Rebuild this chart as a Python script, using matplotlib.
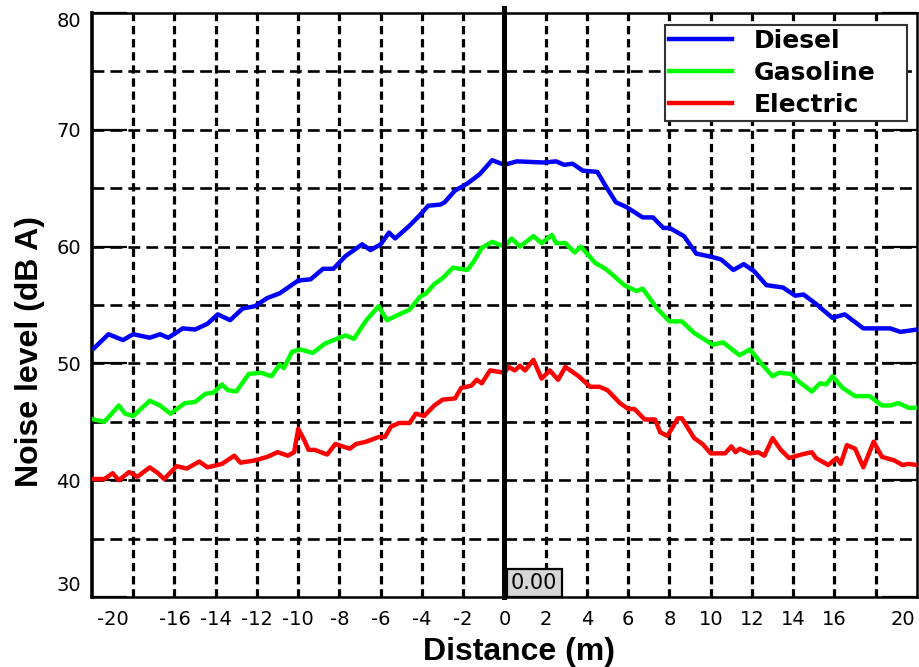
import matplotlib
matplotlib.use("Agg")
import matplotlib.pyplot as plt
import matplotlib.transforms as mtransforms
import numpy as np

# distance (m) / noise level (dB A)
diesel_x = [-19.9, -19.2, -18.5, -18.0, -17.2, -16.7, -16.3, -15.6, -15.0, -14.4,
            -13.9, -13.3, -12.7, -12.1, -11.5, -10.9, -10.0, -9.4, -8.8, -8.3,
            -7.7, -6.9, -6.5, -6.0, -5.6, -5.3, -4.6, -4.1, -3.7, -3.1,
            -2.9, -2.4, -1.8, -1.2, -0.6, 0.0, 0.6, 1.9, 2.5, 2.9,
            3.3, 3.8, 4.5, 4.9, 5.4, 5.9, 6.7, 7.2, 7.7, 8.0,
            8.7, 9.3, 10.1, 10.5, 11.1, 11.6, 12.1, 12.7, 13.5, 14.1,
            14.5, 15.1, 15.9, 16.5, 17.4, 18.1, 18.7, 19.2, 20.0]
diesel_y = [51.3, 52.5, 52.0, 52.5, 52.2, 52.5, 52.2, 53.0, 52.9, 53.4,
            54.2, 53.7, 54.7, 54.9, 55.6, 56.0, 57.1, 57.2, 58.1, 58.1,
            59.2, 60.2, 59.7, 60.2, 61.2, 60.7, 61.8, 62.7, 63.5, 63.6,
            63.8, 64.8, 65.4, 66.2, 67.4, 67.0, 67.3, 67.2, 67.3, 67.0,
            67.1, 66.5, 66.4, 65.2, 63.8, 63.4, 62.5, 62.5, 61.6, 61.6,
            60.9, 59.4, 59.1, 58.9, 58.0, 58.5, 57.9, 56.7, 56.5, 55.8,
            55.9, 55.1, 53.9, 54.2, 53.0, 53.0, 53.0, 52.7, 52.9]

gasoline_x = [-19.9, -19.4, -18.7, -18.4, -18.0, -17.2, -16.7, -16.2, -15.5, -15.0,
              -14.5, -14.1, -13.7, -13.4, -13.0, -12.4, -11.8, -11.3, -10.9, -10.7,
              -10.3, -9.9, -9.3, -8.7, -8.0, -7.7, -7.3, -6.7, -6.1, -5.7,
              -5.1, -4.6, -4.1, -3.8, -3.4, -3.0, -2.5, -1.8, -1.5, -1.1,
              -0.6, 0.0, 0.35, 0.75, 1.4, 1.8, 2.3, 2.5, 2.95, 3.4,
              3.7, 4.4, 4.9, 5.3, 5.8, 6.4, 6.7, 7.4, 8.0, 8.6,
              9.2, 10.1, 10.6, 11.4, 11.9, 12.5, 13.0, 13.3, 13.9, 14.3,
              14.9, 15.3, 15.6, 15.9, 16.4, 17.0, 17.7, 18.3, 18.7, 19.1,
              19.6, 20.0]
gasoline_y = [45.2, 45.0, 46.4, 45.7, 45.5, 46.8, 46.4, 45.7, 46.6, 46.7,
              47.4, 47.5, 48.2, 47.7, 47.6, 49.1, 49.2, 48.9, 49.9, 49.6,
              51.0, 51.2, 50.9, 51.7, 52.2, 52.4, 52.1, 53.7, 54.9, 53.7,
              54.2, 54.6, 55.7, 56.0, 56.8, 57.3, 58.2, 58.0, 58.7, 59.9,
              60.4, 60.0, 60.7, 60.0, 60.9, 60.3, 61.0, 60.3, 60.3, 59.5,
              60.0, 58.6, 58.1, 57.5, 56.7, 56.2, 56.4, 54.7, 53.6, 53.6,
              52.6, 51.6, 51.8, 50.7, 51.2, 49.9, 48.9, 49.2, 49.1, 48.4,
              47.6, 48.3, 48.2, 48.9, 47.9, 47.2, 47.2, 46.4, 46.4, 46.6,
              46.2, 46.2]

electric_x = [-19.9, -19.4, -19.0, -18.7, -18.2, -17.8, -17.2, -16.8, -16.5, -15.9,
              -15.4, -14.8, -14.4, -13.7, -13.1, -12.8, -12.1, -11.5, -11.0, -10.5,
              -10.2, -10.0, -9.7, -9.5, -9.2, -8.6, -8.2, -7.5, -7.2, -6.7,
              -6.1, -5.8, -5.5, -5.1, -4.6, -4.3, -3.9, -3.4, -3.0, -2.4,
              -2.1, -1.6, -1.35, -1.1, -0.7, 0.0, 0.2, 0.5, 0.75, 1.0,
              1.4, 1.8, 2.2, 2.6, 2.95, 3.6, 4.15, 4.6, 5.0, 5.6,
              6.0, 6.3, 6.8, 7.3, 7.55, 7.9, 8.4, 8.6, 9.2, 9.6,
              10.0, 10.7, 11.0, 11.2, 11.4, 11.9, 12.3, 12.6, 13.0, 13.4,
              13.8, 14.4, 14.9, 15.1, 15.7, 16.1, 16.3, 16.6, 17.0, 17.4,
              17.9, 18.3, 18.9, 19.3, 19.6, 20.0]
electric_y = [40.1, 40.1, 40.6, 40.0, 40.7, 40.3, 41.1, 40.6, 40.1, 41.2,
              41.0, 41.6, 41.1, 41.4, 42.1, 41.5, 41.7, 42.0, 42.4, 42.1,
              42.4, 44.4, 43.4, 42.6, 42.6, 42.2, 43.1, 42.7, 43.1, 43.3,
              43.7, 43.7, 44.6, 44.9, 44.9, 45.7, 45.5, 46.4, 46.9, 47.0,
              47.9, 48.1, 48.6, 48.3, 49.4, 49.2, 49.7, 49.4, 49.8, 49.4,
              50.3, 48.7, 49.4, 48.6, 49.7, 48.9, 48.0, 48.0, 47.7, 46.6,
              46.1, 46.1, 45.2, 45.2, 44.1, 43.8, 45.3, 45.3, 43.6, 43.1,
              42.3, 42.3, 42.9, 42.4, 42.7, 42.3, 42.4, 42.1, 43.6, 42.6,
              41.9, 42.2, 42.4, 41.9, 41.3, 41.9, 41.4, 43.0, 42.7, 41.1,
              43.3, 42.0, 41.7, 41.3, 41.4, 41.3]

xtick_vals = [-20, -16, -14, -12, -10, -8, -6, -4, -2, 0, 2, 4, 6, 8, 10, 12, 14, 16, 20]
ytick_vals = [30, 40, 50, 60, 70, 80]

fig = plt.figure(figsize=(9.19, 6.67), dpi=100)
ax = fig.add_axes([0.1001, 0.1049, 0.8977, 0.8756])
ax.set_xlim(-20, 20)
ax.set_ylim(30, 80)

# grid
for gx in np.arange(-18, 19, 2):
    if gx == 0:
        continue
    ax.axvline(gx, color='black', lw=2.3, ls=(0, (2.6, 1.5)), zorder=1)
for gy in np.arange(35, 80, 5):
    ax.axhline(gy, color='black', lw=1.9, ls=(0, (4.5, 2.3)), zorder=1)
ax.axvline(0, ymin=0, ymax=1.009, color='black', lw=3.6, zorder=4, clip_on=False)

ax.plot(diesel_x, diesel_y, color='#0000ff', lw=3.2, label='Diesel', zorder=3)
ax.plot(gasoline_x, gasoline_y, color='#00ff00', lw=3.2, label='Gasoline', zorder=3)
ax.plot(electric_x, electric_y, color='#ff0000', lw=3.2, label='Electric', zorder=3)

ax.text(0.32, 30.34, '0.00', ha='left', va='bottom', fontsize=15, zorder=5,
        bbox=dict(boxstyle='square,pad=0.2', fc='#d6d6d6', ec='black', lw=1.6))

# ticks
ax.set_xticks(xtick_vals)
ax.set_xticklabels([str(v) for v in xtick_vals])
ax.set_xticks([-10, 0, 10], minor=True)
ax.tick_params(axis='x', which='major', length=0, pad=9, labelsize=14)
ax.tick_params(axis='x', which='minor', direction='in', length=13, width=1.6,
               top=True, bottom=True)
ax.set_yticks(ytick_vals)
ax.tick_params(axis='y', which='major', direction='in', length=25, width=1.6,
               left=True, right=True, pad=8, labelsize=14)

for lab in ax.get_xticklabels():
    if lab.get_text() == '-20':
        lab.set_transform(lab.get_transform() + mtransforms.ScaledTranslation(0.21, 0, fig.dpi_scale_trans))
    elif lab.get_text() == '20':
        lab.set_transform(lab.get_transform() + mtransforms.ScaledTranslation(-0.14, 0, fig.dpi_scale_trans))
for lab in ax.get_yticklabels():
    if lab.get_text() == '80':
        lab.set_transform(lab.get_transform() + mtransforms.ScaledTranslation(0, -0.06, fig.dpi_scale_trans))
    elif lab.get_text() == '30':
        lab.set_transform(lab.get_transform() + mtransforms.ScaledTranslation(0, 0.14, fig.dpi_scale_trans))

for side in ['top', 'right', 'bottom']:
    ax.spines[side].set_linewidth(1.8)
ax.spines['left'].set_linewidth(2.6)

ax.set_xlabel('Distance (m)', fontsize=23, fontweight='bold', family='Liberation Sans')
ax.xaxis.set_label_coords(0.518, -0.068)
ax.set_ylabel('Noise level (dB A)', fontsize=23, fontweight='bold', family='Liberation Sans')
ax.yaxis.set_label_coords(-0.075, 0.42)
ax.yaxis.label.set_va('center')

leg = ax.legend(loc='upper left', bbox_to_anchor=(0.695, 0.817, 0.293, 0.162),
                mode='expand', borderaxespad=0,
                prop={'weight': 'bold', 'size': 18}, handlelength=2.5,
                handletextpad=0.9, labelspacing=0.32, fancybox=False,
                framealpha=1, edgecolor='#333333', borderpad=0.15)
leg.get_frame().set_linewidth(1.5)
leg.set_zorder(6)

fig.savefig('out.png', dpi=100)
